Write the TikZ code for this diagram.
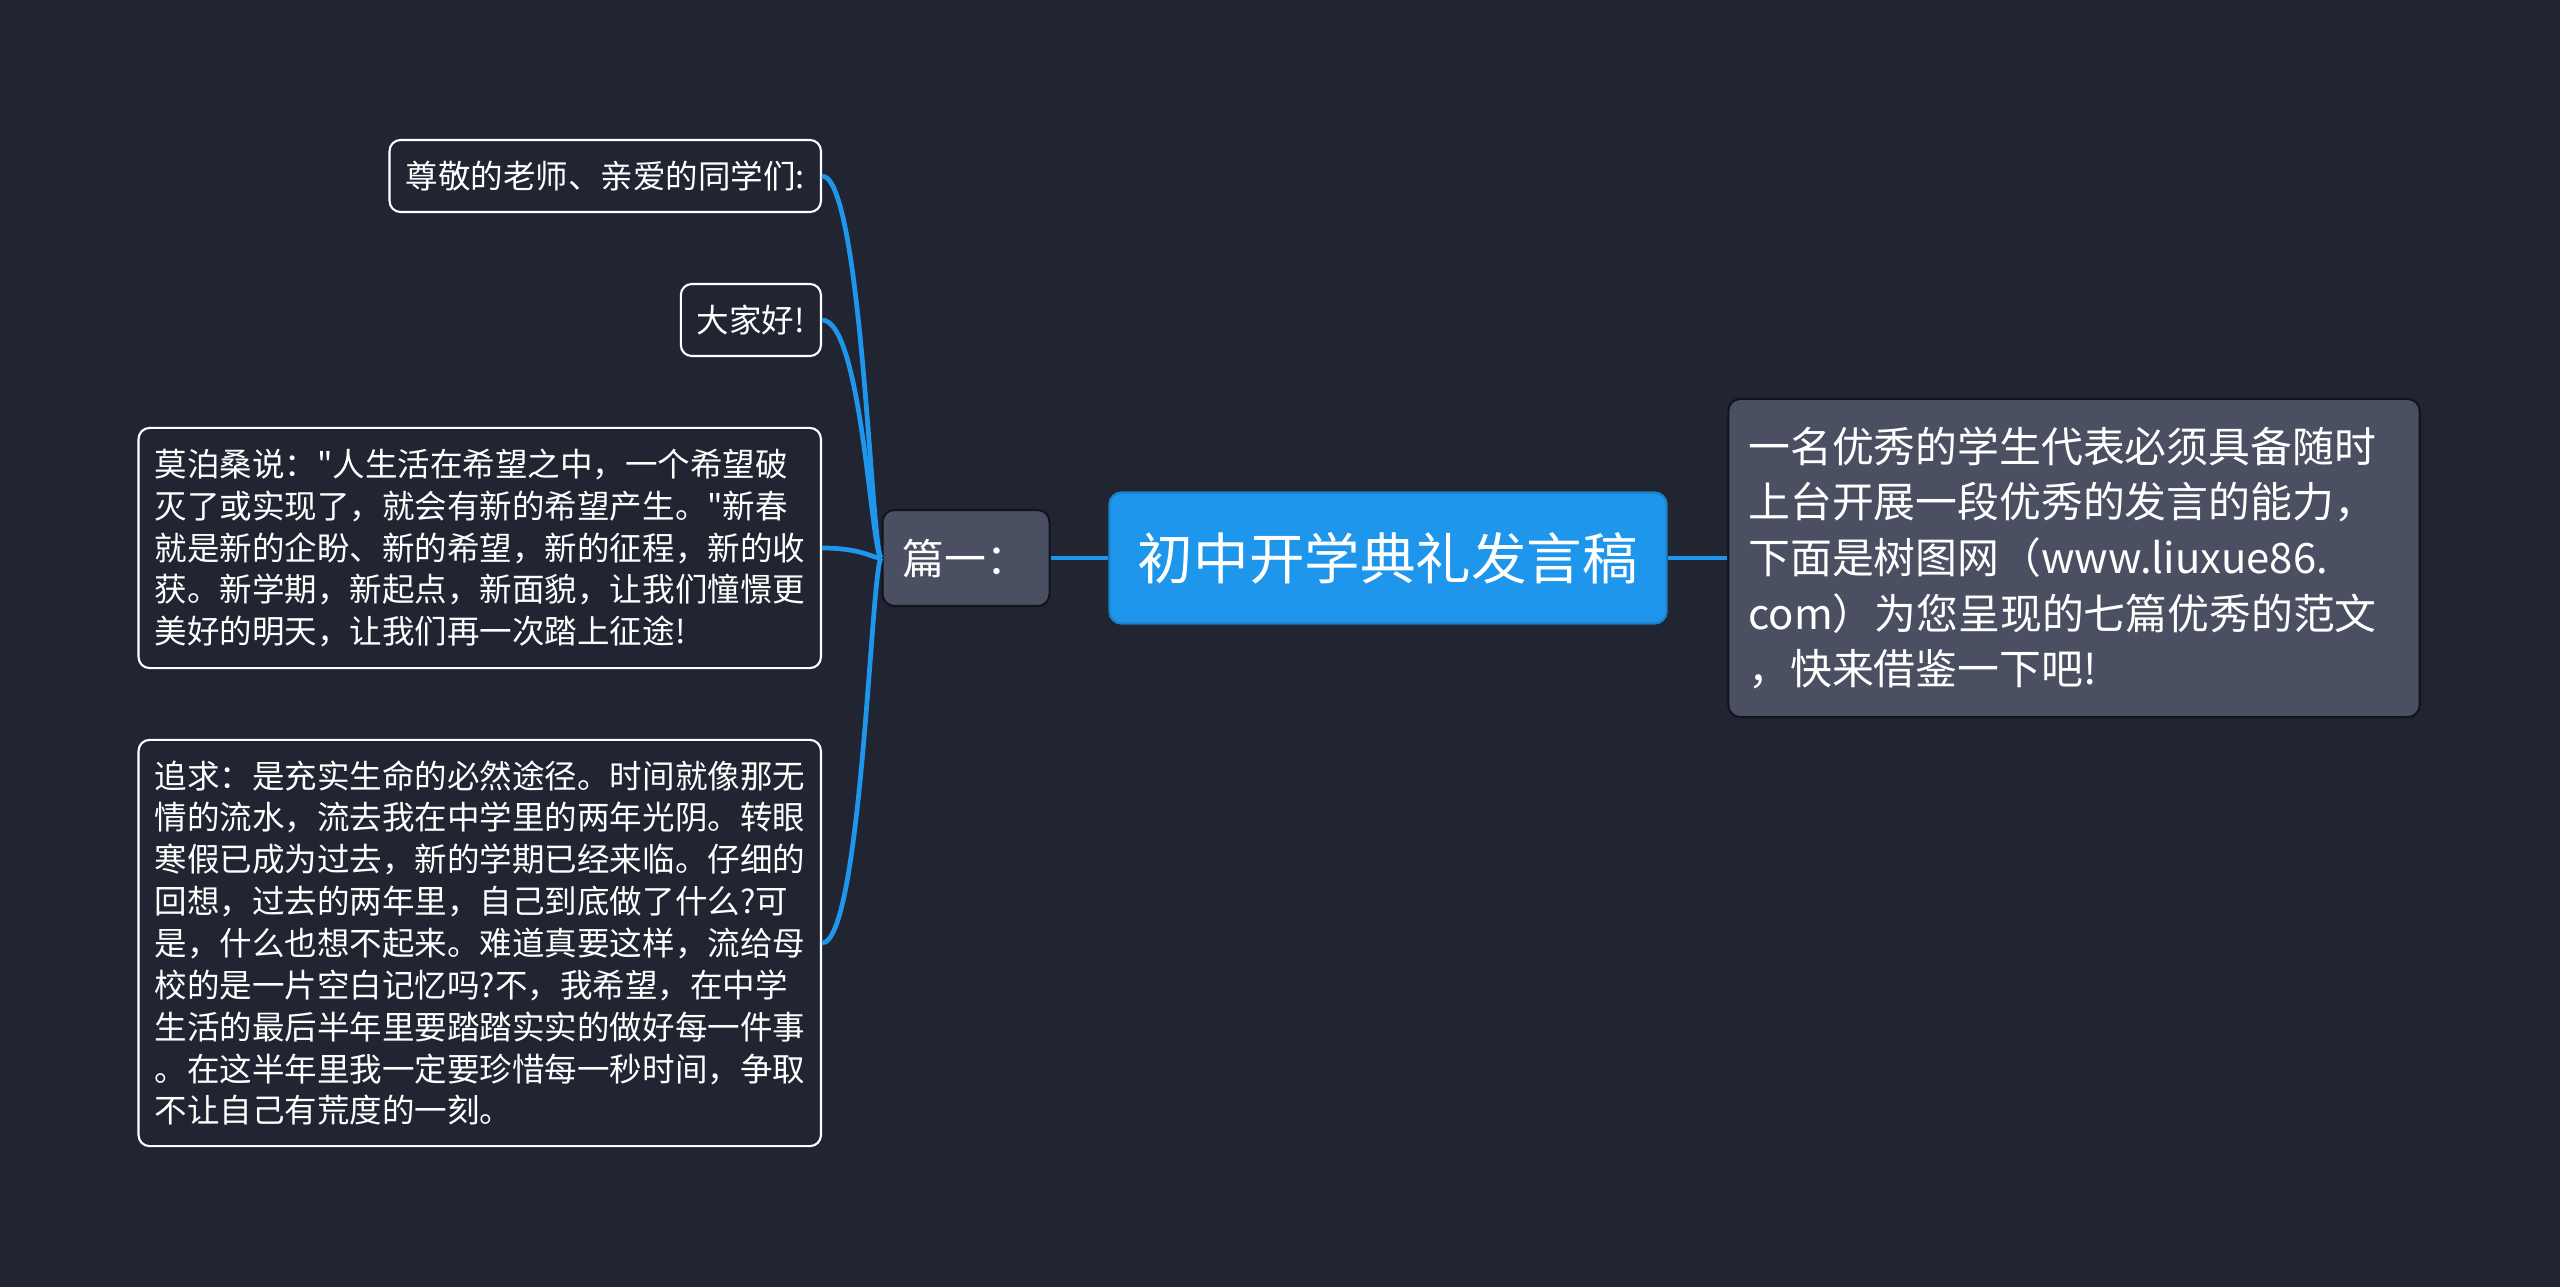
\documentclass[tikz,border=0pt]{standalone}
\usepackage{fontspec}
\newfontfamily\cjk{Noto Sans CJK SC}
\usepackage{tikz}
\usepackage{xcolor}
\usetikzlibrary{positioning}
\definecolor{bgdark}{RGB}{33,37,49}
\definecolor{linkblue}{RGB}{30,150,235}
\definecolor{boxgray}{RGB}{74,80,98}
\definecolor{edgedark}{RGB}{18,20,27}
\tikzset{
  leaf/.style={draw=white, line width=0.6pt, rounded corners=0.11cm, fill=bgdark, text=white,
    inner xsep=0.16cm, inner ysep=0.1cm, minimum height=0.72cm, anchor=east,
    font=\cjk\fontsize{9.25}{11.9}\selectfont, align=left},
  graybox/.style={draw=edgedark, line width=0.6pt, rounded corners=0.12cm, fill=boxgray, text=white,
    inner xsep=0.2cm, font=\cjk\fontsize{11.9}{15.8}\selectfont, align=left},
  link/.style={draw=linkblue, line width=1.35pt},
}

\begin{document}
\begin{tikzpicture}[x=0.01cm, y=-0.01cm]
\fill[bgdark] (0,0) rectangle (2560,1287);
\node[fill=linkblue, draw=linkblue!85!black, line width=0.6pt, rounded corners=0.12cm, text=white,
  minimum width=5.57cm, minimum height=1.31cm, font=\cjk\fontsize{15.8}{19}\selectfont] (root) at (1388,558) {初中开学典礼发言稿};
\node[graybox, text width=1.27cm, minimum height=0.96cm] (pian) at (966,558) {篇一：};
\node[graybox, text width=6.51cm, minimum height=3.18cm] (summary) at (2074,558) {一名优秀的学生代表必须具备随时\\上台开展一段优秀的发言的能力，\\下面是树图网（www.liuxue86.\\com）为您呈现的七篇优秀的范文\\，快来借鉴一下吧!};

\node[leaf] (greet) at (822,176) {尊敬的老师、亲爱的同学们:};
\node[leaf] (hello) at (822,320) {大家好!};
\node[leaf, text width=6.5cm, minimum height=2.4cm] (hope) at (822,548) {莫泊桑说："人生活在希望之中，一个希望破\\灭了或实现了，就会有新的希望产生。"新春\\就是新的企盼、新的希望，新的征程，新的收\\获。新学期，新起点，新面貌，让我们憧憬更\\美好的明天，让我们再一次踏上征途!};
\node[leaf, text width=6.5cm, minimum height=4.06cm] (pursue) at (822,943) {追求：是充实生命的必然途径。时间就像那无\\情的流水，流去我在中学里的两年光阴。转眼\\寒假已成为过去，新的学期已经来临。仔细的\\回想，过去的两年里，自己到底做了什么?可\\是，什么也想不起来。难道真要这样，流给母\\校的是一片空白记忆吗?不，我希望，在中学\\生活的最后半年里要踏踏实实的做好每一件事\\。在这半年里我一定要珍惜每一秒时间，争取\\不让自己有荒度的一刻。};

\draw[link] (root.east) -- (summary.west);
\draw[link] (root.west) -- (pian.east);
\foreach \leafname in {greet,hello,hope,pursue}
  \draw[link] (pian.west) .. controls +(-10,0) and +(40,0) .. (\leafname.east);
\end{tikzpicture}
\end{document}
